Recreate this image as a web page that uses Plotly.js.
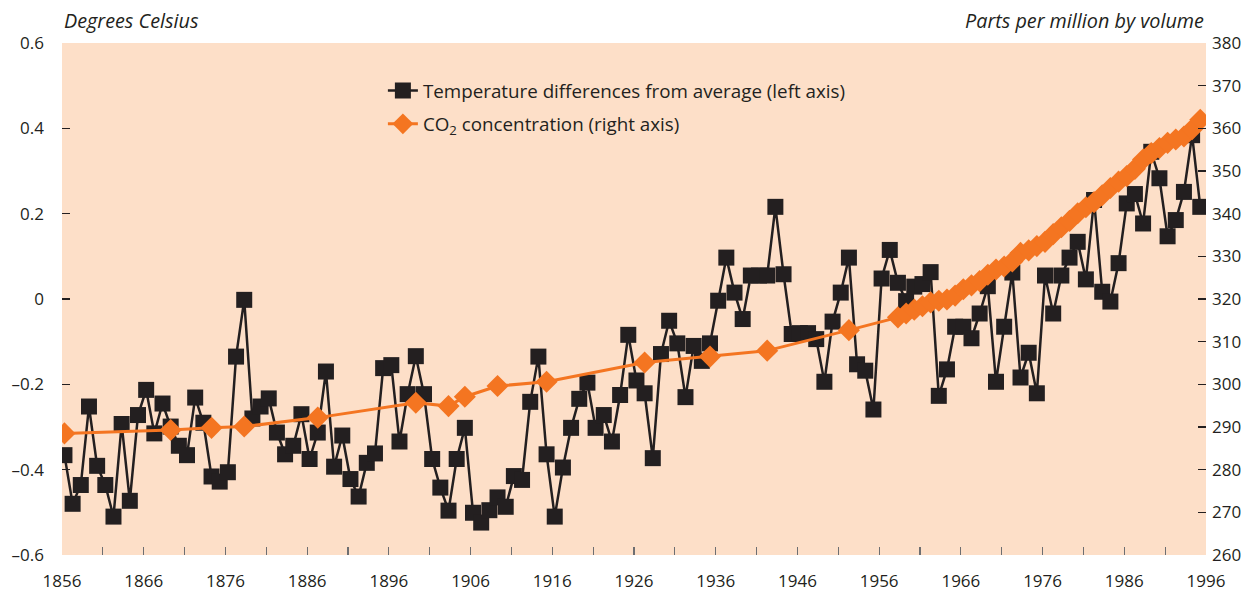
<!DOCTYPE html>
<html>
<head>
<meta charset="utf-8">
<script src="https://cdn.plot.ly/plotly-3.0.1.min.js"></script>
<style>
  html, body { margin: 0; padding: 0; background: #ffffff; }
  #chart { width: 1251px; height: 596px; }
</style>
</head>
<body>
<div id="chart"></div>
<script>
// ---- Data ----
const tempYears = [];
for (let y = 1856; y <= 1995; y++) tempYears.push(y);

const tempValues = [
  -0.366, -0.480, -0.436, -0.252, -0.391, -0.436, -0.510, -0.293, -0.473, -0.272, // 1856-1865
  -0.213, -0.315, -0.245, -0.299, -0.344, -0.366, -0.231, -0.290, -0.416, -0.428, // 1866-1875
  -0.406, -0.135, -0.002, -0.280, -0.252, -0.233, -0.313, -0.364, -0.344, -0.270, // 1876-1885
  -0.375, -0.313, -0.170, -0.393, -0.320, -0.422, -0.463, -0.384, -0.362, -0.162, // 1886-1895
  -0.155, -0.334, -0.223, -0.134, -0.223, -0.375, -0.442, -0.496, -0.375, -0.302, // 1896-1905
  -0.501, -0.524, -0.495, -0.465, -0.487, -0.415, -0.424, -0.241, -0.135, -0.364, // 1906-1915
  -0.510, -0.395, -0.302, -0.234, -0.196, -0.302, -0.272, -0.334, -0.225, -0.084, // 1916-1925
  -0.191, -0.221, -0.373, -0.129, -0.051, -0.104, -0.230, -0.110, -0.145, -0.104, // 1926-1935
  -0.004,  0.097,  0.015, -0.047,  0.055,  0.055,  0.055,  0.216,  0.058, -0.082, // 1936-1945
  -0.080, -0.080, -0.094, -0.194, -0.053,  0.015,  0.097, -0.153, -0.168, -0.259, // 1946-1955
   0.048,  0.115,  0.038, -0.005,  0.029,  0.035,  0.063, -0.227, -0.165, -0.065, // 1956-1965
  -0.065, -0.092, -0.034,  0.030, -0.194, -0.065,  0.062, -0.184, -0.126, -0.221, // 1966-1975
   0.055, -0.034,  0.055,  0.097,  0.134,  0.046,  0.232,  0.017, -0.006,  0.084, // 1976-1985
   0.224,  0.246,  0.177,  0.345,  0.283,  0.147,  0.185,  0.251,  0.384,  0.216  // 1986-1995
];

const co2Years = [1856, 1869, 1874, 1878, 1887, 1899, 1903, 1905, 1909, 1915, 1927, 1935, 1942, 1952,
  1958, 1959, 1960, 1961, 1962, 1963, 1964, 1965, 1966, 1967, 1968, 1969, 1970, 1971, 1972, 1973,
  1974, 1975, 1976, 1977, 1978, 1979, 1980, 1981, 1982, 1983, 1984, 1985, 1986, 1987, 1988, 1989,
  1990, 1991, 1992, 1993, 1994, 1995];
const co2Values = [288.5, 289.3, 289.8, 290.1, 292.2, 295.7, 294.9, 297.1, 299.6, 300.6, 305.1, 306.5, 307.9, 312.7,
  315.7, 316.6, 317.5, 318.3, 319.2, 319.6, 319.9, 320.8, 322.3, 323.2, 324.2, 325.7, 326.9, 327.6, 328.8, 330.8,
  331.4, 332.4, 333.4, 335.2, 336.8, 338.3, 340.1, 341.5, 342.7, 344.3, 346.0, 347.5, 348.8, 350.5, 352.7, 354.2,
  355.4, 356.6, 357.4, 358.1, 359.8, 362.0];

const leftTickVals = [-0.6, -0.4, -0.2, 0, 0.2, 0.4, 0.6];
const leftTickText = ['\u20130.6', '\u20130.4', '\u20130.2', '0', '0.2', '0.4', '0.6'];

// markers sit near mid-year
const midYear = v => v + 0.3;

const INK = '#231f20';
const ORANGE = '#f47521';
const TICK = '#6d6e71';
const FONT = 'Open Sans, Noto Sans, Liberation Sans, Arial, sans-serif';

const traces = [
  {
    x: tempYears.map(midYear), y: tempValues,
    type: 'scatter', mode: 'lines+markers',
    name: 'Temperature differences from average (left axis)',
    legendgroup: 'a',
    line: { color: INK, width: 2.5 },
    marker: { symbol: 'square', size: 16, color: INK },
    yaxis: 'y'
  },
  {
    x: co2Years.map(midYear), y: co2Values,
    type: 'scatter', mode: 'lines+markers',
    name: 'CO<sub>2</sub> concentration (right axis)',
    legendgroup: 'b',
    line: { color: ORANGE, width: 3 },
    marker: { symbol: 'diamond', size: 17, color: ORANGE },
    yaxis: 'y2'
  }
];

const layout = {
  width: 1251, height: 596,
  margin: { l: 62, r: 45, t: 43, b: 41, pad: 0 },
  paper_bgcolor: '#ffffff',
  plot_bgcolor: '#fddfc8',
  font: { family: FONT, size: 17, color: INK },
  showlegend: true,
  legend: {
    x: 0.2805, y: 0.944, xanchor: 'left', yanchor: 'top',
    bgcolor: 'rgba(0,0,0,0)', borderwidth: 0,
    font: { family: FONT, size: 18.8, color: INK },
    traceorder: 'grouped', tracegroupgap: 6
  },
  xaxis: {
    range: [1856, 1996],
    tick0: 1856, dtick: 10,
    ticks: 'inside', ticklen: 8, tickwidth: 1.2, tickcolor: TICK,
    showgrid: false, zeroline: false, showline: false,
    ticklabelstandoff: 14,
    tickfont: { family: FONT, size: 17, color: INK },
    minor: { tick0: 1856, dtick: 5, ticks: 'inside', ticklen: 8, tickwidth: 1.2, tickcolor: TICK, showgrid: false }
  },
  yaxis: {
    range: [-0.6, 0.6],
    tickvals: leftTickVals, ticktext: leftTickText,
    ticks: 'inside', ticklen: 8, tickwidth: 1.2, tickcolor: INK,
    showgrid: false, zeroline: false, showline: false,
    ticklabelstandoff: 17,
    tickfont: { family: FONT, size: 17, color: INK }
  },
  yaxis2: {
    range: [260, 380], dtick: 10, tick0: 260,
    overlaying: 'y', side: 'right',
    ticks: 'inside', ticklen: 8, tickwidth: 1.2, tickcolor: INK,
    showgrid: false, zeroline: false, showline: false,
    ticklabelstandoff: 5,
    tickfont: { family: FONT, size: 17, color: INK }
  },
  annotations: [
    {
      text: 'Degrees Celsius', xref: 'paper', yref: 'paper',
      x: 0, y: 1.014, xanchor: 'left', yanchor: 'bottom', showarrow: false,
      font: { family: FONT, size: 19.8, color: INK, style: 'italic' }
    },
    {
      text: 'Parts per million by volume', xref: 'paper', yref: 'paper',
      x: 1, y: 1.014, xanchor: 'right', yanchor: 'bottom', showarrow: false,
      font: { family: FONT, size: 19.8, color: INK, style: 'italic' }
    }
  ]
};

Plotly.newPlot('chart', traces, layout, { staticPlot: true, displayModeBar: false });
</script>
</body>
</html>
